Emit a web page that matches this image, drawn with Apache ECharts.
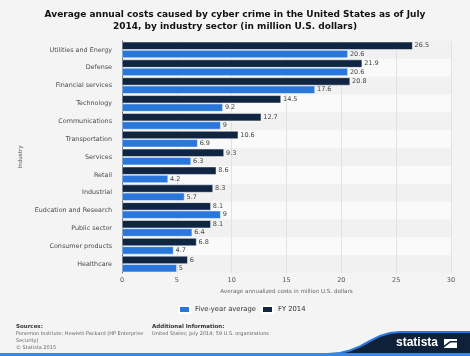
<!DOCTYPE html>
<html><head><meta charset="utf-8">
<script src="https://cdn.jsdelivr.net/npm/echarts@6/dist/echarts.min.js"></script>
<style>html,body{margin:0;padding:0;background:#f4f4f4}#c{width:470px;height:356px}</style>
</head><body><div id="c"></div>
<script>
const categories = ["Utilities and Energy","Defense","Financial services","Technology","Communications","Transportation","Services","Retail","Industrial","Eudcation and Research","Public sector","Consumer products","Healthcare"];
const fiveYearAverage = [20.6,20.6,17.6,9.2,9,6.9,6.3,4.2,5.7,9,6.4,4.7,5];
const fy2014 = [26.5,21.9,20.8,14.5,12.7,10.6,9.3,8.6,8.3,8.1,8.1,6.8,6];
const xTicks = [0,5,10,15,20,25,30];

const chart = echarts.init(document.getElementById('c'), null, {renderer:'canvas'});
const font = 'DejaVu Sans';
const lbl = {show:true, position:'right', distance:2, color:'#444', fontSize:6.5, fontFamily:font};
const wave = [[328,354],[340,353],[350,350.5],[360,346.5],[370,341],[380,336],[390,333],[400,332],[470,332]];
chart.setOption({
  backgroundColor:'#f4f4f4',
  animation:false,
  title:{text:'Average annual costs caused by cyber crime in the United States as of July\n2014, by industry sector (in million U.S. dollars)',
    left:'center', top:4, textStyle:{fontFamily:font, fontSize:9, fontWeight:'bold', color:'#111', lineHeight:12}},
  grid:{left:122, right:19, top:41, bottom:83},
  legend:{data:['Five-year average','FY 2014'], top:300, left:178, itemWidth:11, itemHeight:7, itemGap:5, padding:[5,0],
    textStyle:{fontFamily:font, fontSize:6.8, color:'#333'}, icon:'rect'},
  xAxis:{type:'value', min:xTicks[0], max:xTicks[xTicks.length-1], interval:5,
    name:'Average annualized costs in million U.S. dollars', nameLocation:'middle', nameGap:11,
    nameTextStyle:{fontFamily:font, fontSize:5.6, color:'#666'},
    axisLabel:{fontFamily:font, fontSize:6.5, color:'#555', margin:4},
    axisLine:{show:false}, axisTick:{show:false},
    splitLine:{lineStyle:{color:'#e2e2e2', width:1}}},
  yAxis:{type:'category', data:categories, inverse:true,
    name:'Industry', nameLocation:'middle', nameGap:90, nameRotate:90,
    nameTextStyle:{fontFamily:font, fontSize:5.6, color:'#555'},
    axisLabel:{fontFamily:font, fontSize:6.4, color:'#4a4a4a', margin:10},
    axisLine:{lineStyle:{color:'#555'}}, axisTick:{show:false},
    splitArea:{show:true, areaStyle:{color:['#f1f1f1','#fafafa']}}},
  series:[
    {name:'FY 2014', type:'bar', data:fy2014, barWidth:8, barGap:'4%',
      itemStyle:{color:'#0f2542', borderColor:'#ffffff', borderWidth:0.5}, label:lbl},
    {name:'Five-year average', type:'bar', data:fiveYearAverage, barWidth:8, barGap:'4%',
      itemStyle:{color:'#2a77dc', borderColor:'#ffffff', borderWidth:0.5}, label:lbl}
  ],
  color:['#0f2542','#2a77dc'],
  graphic:[
    {type:'text', left:16, top:324, style:{text:'Sources:', font:'bold 5.5px DejaVu Sans', fill:'#333'}},
    {type:'text', left:16, top:330, style:{text:'Ponemon Institute; Hewlett-Packard (HP Enterprise\nSecurity)\n© Statista 2015', font:'5px DejaVu Sans', fill:'#666', lineHeight:7}},
    {type:'text', left:152, top:324, style:{text:'Additional Information:', font:'bold 5.5px DejaVu Sans', fill:'#333'}},
    {type:'text', left:152, top:331, style:{text:'United States; July 2014; 59 U.S. organizations', font:'5px DejaVu Sans', fill:'#666'}},
    {type:'polygon', shape:{points:wave.concat([[470,354]])}, style:{fill:'#0e2138'}},
    {type:'polyline', shape:{points:wave}, style:{fill:null, stroke:'#2a77dc', lineWidth:2}},
    {type:'rect', shape:{x:0, y:353, width:470, height:3}, style:{fill:'#3d86e0'}},
    {type:'text', left:396, top:337, style:{text:'statista', font:'bold 12px Liberation Sans', fill:'#ffffff'}},
    {type:'rect', shape:{x:444, y:339, width:13, height:9}, style:{fill:'#ffffff'}},
    {type:'polygon', shape:{points:[[444,345.5],[450,341],[457,341],[457,342.6],[450.6,342.6],[444,347.5]]}, style:{fill:'#0e2138'}}
  ]
});
</script></body></html>
